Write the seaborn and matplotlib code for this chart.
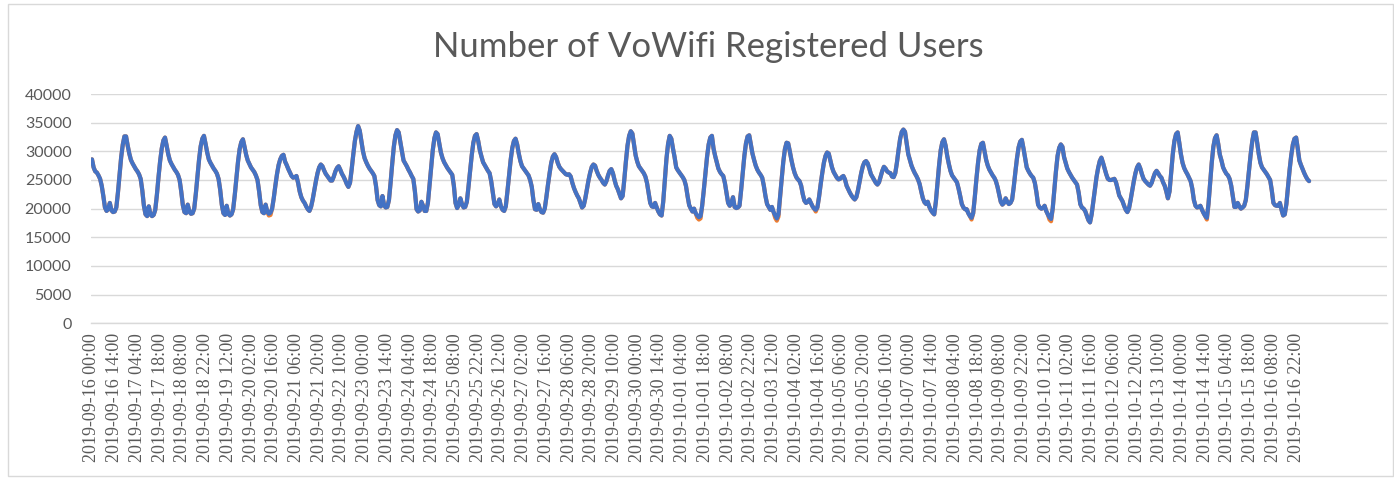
"""
Number of VoWifi Registered Users - hourly, 2019-09-16 .. 2019-10-17.
Values are read off the reference chart, in hundreds of users.
"""

import numpy as np
import pandas as pd
import matplotlib
matplotlib.use("Agg")
import matplotlib.pyplot as plt
import matplotlib.patches as mpatches
import seaborn as sns

START = "2019-09-16 00:00"
TICK_STEP = 14  # one label every 14 hours

# hourly values (x100), one line per day, 00:00 .. 23:00
week1 = [
    286, 272, 265, 263, 258, 252, 240, 222, 202, 196, 199, 210, 197, 194, 195, 202, 228, 260, 290, 312, 326, 326, 310, 296,  # 09-16
    285, 279, 274, 269, 265, 260, 252, 232, 205, 190, 187, 204, 190, 187, 189, 198, 224, 255, 283, 305, 319, 324, 310, 295,  # 09-17
    284, 278, 273, 268, 264, 259, 250, 230, 206, 194, 192, 207, 195, 191, 192, 200, 226, 257, 286, 309, 322, 327, 313, 298,  # 09-18
    286, 280, 275, 270, 266, 261, 252, 233, 207, 192, 189, 205, 191, 188, 190, 199, 224, 254, 282, 304, 316, 321, 308, 294,  # 09-19
    284, 278, 272, 268, 264, 258, 250, 230, 206, 194, 192, 207, 195, 191, 193, 200, 218, 240, 260, 276, 286, 292, 294, 282,  # 09-20
    276, 269, 263, 257, 254, 255, 257, 245, 230, 220, 214, 210, 204, 199, 196, 203, 216, 232, 248, 262, 272, 277, 274, 267,  # 09-21
    261, 257, 253, 249, 249, 256, 265, 271, 274, 268, 261, 256, 250, 243, 238, 245, 268, 294, 318, 334, 344, 336, 318, 300,  # 09-22
]
week2 = [
    288, 281, 275, 270, 266, 262, 257, 240, 215, 206, 204, 222, 206, 202, 203, 215, 245, 278, 308, 328, 337, 333, 316, 300,  # 09-23
    284, 279, 274, 268, 263, 257, 252, 230, 199, 195, 197, 212, 205, 196, 196, 210, 240, 272, 302, 323, 333, 330, 314, 298,  # 09-24
    288, 281, 276, 271, 267, 263, 259, 240, 210, 201, 206, 218, 208, 202, 203, 212, 238, 266, 293, 315, 327, 330, 318, 302,  # 09-25
    291, 281, 276, 271, 266, 262, 248, 228, 208, 204, 208, 216, 204, 198, 196, 204, 230, 258, 285, 306, 318, 322, 312, 296,  # 09-26
    283, 274, 270, 266, 262, 258, 250, 238, 215, 199, 198, 208, 199, 194, 193, 200, 220, 242, 262, 280, 291, 295, 290, 280,  # 09-27
    273, 269, 266, 263, 260, 259, 260, 256, 245, 236, 229, 223, 218, 210, 202, 205, 218, 234, 250, 263, 273, 277, 275, 266,  # 09-28
    259, 254, 250, 245, 242, 248, 258, 266, 269, 262, 250, 240, 234, 226, 218, 222, 250, 282, 310, 327, 335, 331, 312, 293,  # 09-29
]
week3 = [
    282, 274, 270, 266, 262, 256, 245, 228, 210, 204, 203, 210, 202, 195, 190, 188, 212, 250, 287, 313, 327, 322, 305, 290,  # 09-30
    272, 267, 263, 259, 255, 250, 240, 222, 206, 200, 195, 200, 192, 188, 185, 187, 205, 232, 262, 290, 312, 324, 327, 305,  # 10-01
    292, 281, 270, 264, 260, 257, 245, 228, 210, 205, 210, 220, 203, 201, 202, 205, 232, 262, 292, 314, 326, 328, 312, 296,  # 10-02
    285, 275, 268, 263, 259, 254, 240, 222, 208, 203, 198, 203, 194, 188, 183, 190, 220, 252, 282, 304, 315, 314, 300, 285,  # 10-03
    272, 262, 255, 251, 248, 240, 225, 214, 210, 212, 216, 210, 204, 200, 198, 202, 220, 242, 262, 280, 292, 298, 296, 284,  # 10-04
    272, 264, 259, 254, 251, 252, 255, 257, 251, 240, 234, 228, 223, 219, 216, 220, 232, 247, 262, 274, 281, 283, 279, 270,  # 10-05
    260, 255, 250, 245, 242, 246, 256, 266, 273, 270, 265, 263, 262, 256, 255, 262, 280, 302, 322, 334, 338, 334, 315, 295,  # 10-06
]
week4 = [
    285, 275, 268, 262, 257, 251, 243, 230, 218, 211, 208, 212, 203, 197, 193, 190, 212, 245, 276, 302, 316, 321, 310, 292,  # 10-07
    278, 266, 258, 254, 250, 246, 235, 222, 208, 202, 199, 199, 192, 187, 184, 192, 220, 252, 280, 302, 313, 315, 300, 285,  # 10-08
    275, 268, 263, 258, 254, 248, 238, 225, 212, 207, 210, 218, 212, 208, 210, 216, 238, 264, 288, 307, 317, 320, 305, 288,  # 10-09
    272, 266, 261, 257, 254, 245, 228, 207, 202, 200, 201, 205, 196, 190, 185, 182, 200, 232, 265, 292, 306, 312, 308, 290,  # 10-10
    280, 270, 264, 259, 254, 250, 246, 242, 228, 208, 202, 200, 196, 188, 180, 176, 190, 212, 235, 255, 271, 283, 289, 280,  # 10-11
    270, 260, 252, 250, 250, 251, 252, 246, 235, 223, 218, 213, 205, 198, 194, 200, 215, 232, 248, 262, 272, 277, 270, 260,  # 10-12
    252, 248, 245, 242, 240, 245, 254, 262, 266, 262, 257, 254, 246, 240, 230, 218, 230, 262, 295, 318, 330, 333, 315, 295,  # 10-13
]
week5 = [
    280, 271, 265, 260, 254, 248, 235, 215, 205, 202, 203, 205, 198, 192, 187, 184, 208, 245, 280, 308, 323, 328, 313, 294,  # 10-14
    284, 272, 266, 261, 258, 252, 240, 222, 203, 203, 210, 204, 200, 202, 205, 215, 240, 268, 295, 318, 333, 333, 315, 295,  # 10-15
    280, 272, 268, 264, 260, 255, 250, 232, 210, 206, 205, 205, 210, 198, 188, 190, 208, 238, 268, 293, 312, 322, 324, 305,  # 10-16
    284, 276, 269, 262, 256, 251, 248,                                                                                      # 10-17
]

# second (orange) series: same as the blue one except where it shows below it
orange_diff = {109: 188, 110: 189, 373: 184, 374: 181, 375: 183,
               421: 184, 422: 179, 423: 186, 446: 195, 542: 181,
               590: 181, 591: 178, 687: 181}

BLUE = "#4472C4"
ORANGE = "#ED7D31"
GREY = "#595959"
GRID = "#D9D9D9"

blue = np.array(week1 + week2 + week3 + week4 + week5) * 100
orange = blue.copy()
for i, v in orange_diff.items():
    orange[i] = v * 100

stamps = pd.date_range(START, periods=len(blue), freq="h")
df = pd.DataFrame({"pos": np.arange(len(blue)), "blue": blue, "orange": orange})

sns.set_theme(style="white")
plt.rcParams["font.family"] = ["Lato", "DejaVu Sans"]

fig = plt.figure(figsize=(13.94, 4.8), dpi=100)
ax = fig.add_axes([91 / 1394, 1 - 323.3 / 480, 1296 / 1394, 229.3 / 480])

sns.lineplot(data=df, x="pos", y="orange", ax=ax, color=ORANGE, linewidth=3.0)
sns.lineplot(data=df, x="pos", y="blue", ax=ax, color=BLUE, linewidth=3.0)

ax.set_xlim(-0.6, 798)
ax.set_ylim(0, 40000)
ax.set_yticks(np.arange(0, 40001, 5000))
ax.set_yticklabels([str(v) for v in range(0, 40001, 5000)], fontsize=11.5, color=GREY)

ticks = np.arange(0, len(blue), TICK_STEP)
ax.set_xticks(ticks)
ax.set_xticklabels([stamps[i].strftime("%Y-%m-%d %H:%M") for i in ticks],
                   rotation=90, fontsize=13, color=GREY, family="Liberation Serif")
ax.tick_params(axis="x", length=0, pad=7)
ax.tick_params(axis="y", length=0, pad=14)

ax.yaxis.grid(True, color=GRID, linewidth=1.0)
ax.xaxis.grid(False)
for side in ["top", "right", "left"]:
    ax.spines[side].set_visible(False)
ax.spines["bottom"].set_color(GRID)
ax.spines["bottom"].set_linewidth(1.0)
ax.set_xlabel("")
ax.set_ylabel("")

fig.text(708 / 1394, 1 - 47 / 480, "Number of VoWifi Registered Users",
         ha="center", va="center", fontsize=25, color=GREY)

# chart area border
fig.patches.append(mpatches.Rectangle((8 / 1394, 4 / 480), 1 - 9 / 1394, 1 - 8 / 480,
                                      transform=fig.transFigure, fill=False,
                                      edgecolor=GRID, linewidth=1.0))

fig.savefig("out.png", dpi=100)
plt.close(fig)
